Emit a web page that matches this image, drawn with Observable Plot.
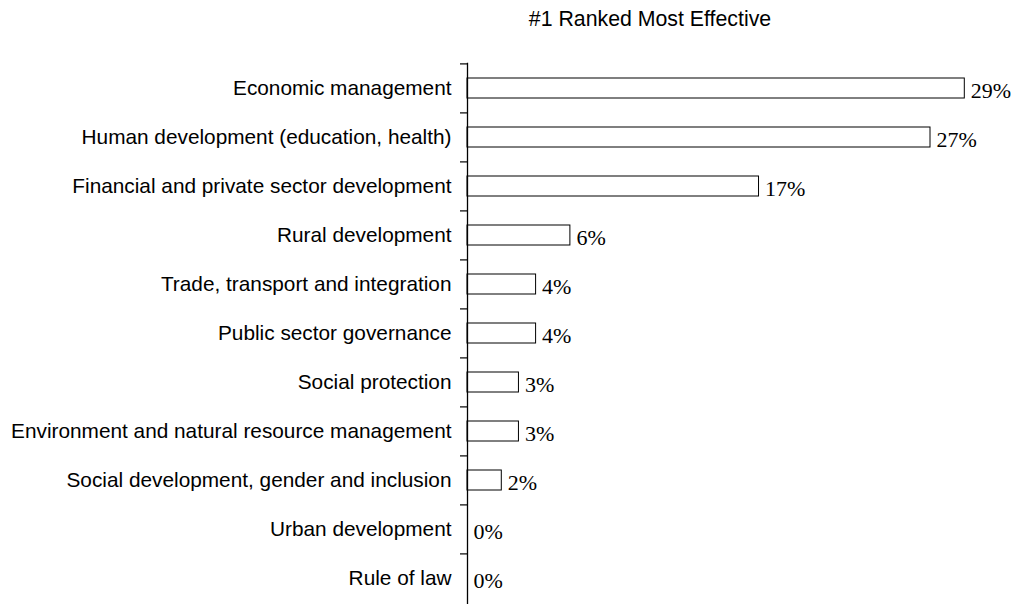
<!DOCTYPE html>
<html><head><meta charset="utf-8">
<script src="https://cdn.jsdelivr.net/npm/d3@7"></script>
<script src="https://cdn.jsdelivr.net/npm/@observablehq/plot@0.6"></script>
<style>
body{margin:0;background:#fff;}
#wrap{position:relative;width:1016px;height:604px;overflow:hidden;}
#title{position:absolute;top:8.5px;left:650px;transform:translateX(-50%);font-family:"Liberation Sans",Arial,sans-serif;font-size:21.3px;line-height:21.3px;white-space:nowrap;color:#000;}
#wrap svg{position:absolute;left:0;top:0;}
</style></head><body>
<div id="wrap"><div id="title"></div></div>
<script>
const title = "#1 Ranked Most Effective";
const categories = [
  "Economic management",
  "Human development (education, health)",
  "Financial and private sector development",
  "Rural development",
  "Trade, transport and integration",
  "Public sector governance",
  "Social protection",
  "Environment and natural resource management",
  "Social development, gender and inclusion",
  "Urban development",
  "Rule of law"
];
const values = [29, 27, 17, 6, 4, 4, 3, 3, 2, 0, 0];
const labels = values.map(v => v + "%");
const data = categories.map((c, i) => ({category: c, value: values[i], label: labels[i]}));

document.getElementById("title").textContent = title;

const W = 1016, H = 604, mTop = 62.7, mBottom = 0, pad = 0.593;
const step = (H - mTop - mBottom) / categories.length;

const chart = Plot.plot({
  width: W, height: H,
  marginTop: mTop, marginBottom: mBottom, marginLeft: 467, marginRight: 51.7,
  x: {domain: [0, 29], axis: null},
  y: {domain: categories, paddingInner: pad, paddingOuter: pad / 2, label: null},
  style: {background: "transparent", fontFamily: "Liberation Sans, Arial, sans-serif", color: "black"},
  marks: [
    Plot.barX(data, {y: "category", x: "value", fill: "white", stroke: "black", strokeWidth: 1}),
    Plot.ruleX([0], {stroke: "black", strokeWidth: 1.3}),
    Plot.axisY({tickSize: 7, text: null, label: null, dy: -step / 2, stroke: "black", strokeWidth: 1.2}),
    Plot.axisY({tickSize: 0, tickPadding: 16, label: null, fontSize: 20.8, fill: "black"}),
    Plot.text(data, {y: "category", x: "value", text: "label", textAnchor: "start", dx: 6, dy: 2.5,
      fontFamily: "Liberation Serif, Times New Roman, serif", fontSize: 22, fill: "black"})
  ]
});
document.getElementById("wrap").appendChild(chart);
</script>
</body></html>
